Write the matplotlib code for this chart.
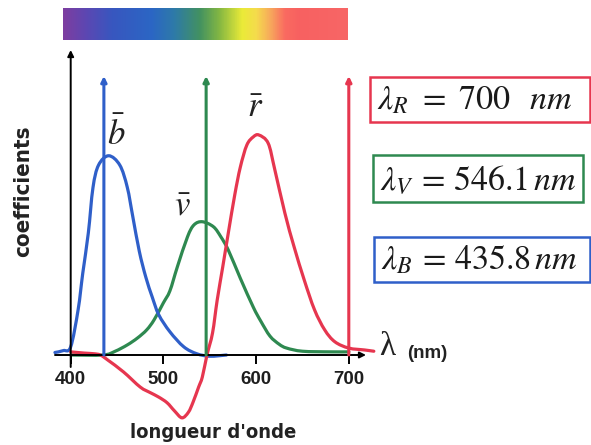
import numpy as np
import matplotlib
matplotlib.use("Agg")
import matplotlib.pyplot as plt
from matplotlib.path import Path
from matplotlib.patches import PathPatch, Rectangle
from matplotlib.colors import LinearSegmentedColormap

plt.rcParams['mathtext.fontset'] = 'stix'

# ---- colour-matching functions (wavelength in nm, coefficient) ----
b_wl = [383, 392, 400, 408, 413, 419, 424, 430, 441, 453, 461, 467, 474,
        481, 488, 495, 507, 522, 536, 550, 568]
b_val = [0.004, 0.007, 0.013, 0.072, 0.130, 0.194, 0.266, 0.302, 0.317,
         0.302, 0.267, 0.220, 0.165, 0.124, 0.092, 0.064, 0.037, 0.013, 0.002,
         -0.002, 0.000]

v_wl = [400, 435, 448, 461, 472, 482, 490, 500, 507, 515, 526, 533, 542, 554,
        562, 570, 583, 597, 605, 615, 625, 633, 650, 680, 700]
v_val = [0.000, 0.000, 0.006, 0.016, 0.027, 0.040, 0.056, 0.083, 0.102, 0.140,
         0.188, 0.207, 0.212, 0.204, 0.188, 0.167, 0.122, 0.076, 0.054, 0.030,
         0.017, 0.011, 0.006, 0.005, 0.005]

r_wl = [400, 415, 425, 432, 440, 457, 475, 486, 495, 504, 512, 520, 527, 532,
        538, 542, 547, 553, 558, 564, 570, 577, 583, 590, 597, 603, 613, 620,
        631, 641, 652, 663, 674, 685, 700, 717, 727]
r_val = [0.005, 0.003, 0.002, 0.000, -0.008, -0.027, -0.051, -0.060, -0.067,
         -0.076, -0.089, -0.100, -0.091, -0.075, -0.051, -0.035, 0.000, 0.035,
         0.087, 0.140, 0.194, 0.255, 0.299, 0.334, 0.347, 0.350, 0.337, 0.296,
         0.226, 0.172, 0.119, 0.072, 0.040, 0.021, 0.011, 0.008, 0.006]

# primaries
prim_wl = [700, 546.1, 435.8]
prim_text = [r'$\lambda_R\,\,=\,\,700\ \ \,nm$',
             r'$\lambda_V\,=\,546.1\,nm$',
             r'$\lambda_B\,=\,435.8\,nm$']

x_ticks = [400, 500, 600, 700]

C_BLUE = '#2f5fc9'
C_GREEN = '#2e8950'
C_RED = '#e6364f'

# ---- pixel layout ----
W, H = 591, 445
PX0, PX_PER_NM = 70.7, 0.927      # x pixel of 400 nm, pixels per nm
PY0, K = 355.0, 0.35 / 220.0      # baseline pixel, coefficient per pixel


def lam_at(px):
    return 400 + (px - PX0) / PX_PER_NM


def val_at(py):
    return (PY0 - py) * K


def fx(px):
    return px / W


def fy(py):
    return 1 - py / H


def smooth_path(x, y):
    pts = np.column_stack([x, y]).astype(float)
    verts = [pts[0]]
    codes = [Path.MOVETO]
    n = len(pts)
    for i in range(n - 1):
        p0 = pts[i - 1] if i > 0 else pts[i]
        p1, p2 = pts[i], pts[i + 1]
        p3 = pts[i + 2] if i + 2 < n else pts[i + 1]
        verts += [p1 + (p2 - p0) / 6, p2 - (p3 - p1) / 6, p2]
        codes += [Path.CURVE4] * 3
    return Path(verts, codes)


fig = plt.figure(figsize=(W / 100, H / 100), dpi=100)
fig.patch.set_facecolor('white')

ax = fig.add_axes([fx(40), fy(440), 340 / W, 395 / H])
ax.set_xlim(lam_at(40), lam_at(380))
ax.set_ylim(val_at(440), val_at(45))
ax.axis('off')

# axes with arrow heads
arrow_kw = dict(arrowstyle='-|>', color='black', lw=1.4, mutation_scale=9,
                shrinkA=0, shrinkB=0)
ax.annotate('', xy=(400, val_at(50)), xytext=(400, val_at(367)),
            arrowprops=arrow_kw)
ax.annotate('', xy=(lam_at(366), 0), xytext=(lam_at(55), 0),
            arrowprops=arrow_kw)
for t in x_ticks:
    ax.plot([t, t], [0, val_at(364)], color='black', lw=1.4,
            solid_capstyle='butt')
    ax.text(t, val_at(379), str(t), ha='center', va='center', fontsize=13.5,
            fontweight='bold', family=['Liberation Sans', 'DejaVu Sans'],
            color='#1e1e1e')

# curves
for wl, val, col in [(v_wl, v_val, C_GREEN), (b_wl, b_val, C_BLUE),
                     (r_wl, r_val, C_RED)]:
    ax.add_patch(PathPatch(smooth_path(wl, val), fill=False, edgecolor=col,
                           lw=2.3, capstyle='round', joinstyle='round'))

# primary wavelength arrows
for wl, col in zip(prim_wl, [C_RED, C_GREEN, C_BLUE]):
    ax.annotate('', xy=(wl, val_at(76)), xytext=(wl, 0),
                arrowprops=dict(arrowstyle='-|>', color=col, lw=2.2,
                                mutation_scale=8, shrinkA=0, shrinkB=0))

# curve labels
lab_kw = dict(fontsize=25, ha='center', va='center', color='#222222')
ax.text(lam_at(116), val_at(134), r'$\bar{b}$', **lab_kw)
ax.text(lam_at(182), val_at(205), r'$\bar{v}$', **lab_kw)
ax.text(lam_at(255), val_at(107), r'$\bar{r}$', **lab_kw)

# axis titles
title_kw = dict(fontweight='bold', fontstretch='condensed',
                family=['DejaVu Sans'], color='#222222')
fig.text(fx(23), fy(191), 'coefficients', rotation=90, ha='center',
         va='center', fontsize=16, **title_kw)
fig.text(fx(213), fy(432), "longueur d'onde", ha='center', va='center',
         fontsize=14.5, **title_kw)
fig.text(fx(387), fy(347), 'λ', ha='center', va='center', fontsize=24,
         family=['Liberation Serif', 'DejaVu Serif'], color='#222222')
fig.text(fx(427), fy(353), '(nm)', ha='center', va='center', fontsize=13.5,
         fontweight='bold', family=['Liberation Sans', 'DejaVu Sans'],
         color='#222222')

# spectrum strip
spec_pos = [0.0, 0.08, 0.17, 0.31, 0.39, 0.48, 0.55, 0.63, 0.68, 0.73,
            0.78, 0.83, 1.0]
spec_col = [(0.49, 0.24, 0.63), (0.36, 0.28, 0.70), (0.22, 0.34, 0.75),
            (0.17, 0.40, 0.77), (0.18, 0.48, 0.66), (0.26, 0.57, 0.38),
            (0.52, 0.72, 0.26), (0.92, 0.92, 0.22), (0.96, 0.86, 0.30),
            (0.97, 0.66, 0.36), (0.98, 0.42, 0.38), (0.97, 0.38, 0.38),
            (0.97, 0.40, 0.40)]
spec_cmap = LinearSegmentedColormap.from_list('spectrum',
                                              list(zip(spec_pos, spec_col)))
sax = fig.add_axes([fx(63), fy(40), (348 - 63) / W, 32 / H])
sax.imshow(np.linspace(0, 1, 400)[None, :], aspect='auto', cmap=spec_cmap,
           extent=[0, 1, 0, 1])
sax.axis('off')

# primary boxes
boxes = [(370, 77, 590, 122), (373, 155, 583, 202), (374, 237, 590, 282)]
for (x0, y0, x1, y1), col, txt in zip(boxes, [C_RED, C_GREEN, C_BLUE],
                                      prim_text):
    fig.add_artist(Rectangle((fx(x0), fy(y1)), (x1 - x0) / W, (y1 - y0) / H,
                             transform=fig.transFigure, fill=False,
                             edgecolor=col, lw=1.8))
    fig.text(fx(x0 + 7), fy((y0 + y1) / 2 + 1), txt, ha='left', va='center',
             fontsize=24.5, color='#1a1a1a')

fig.savefig('out.png', dpi=100, facecolor='white')
